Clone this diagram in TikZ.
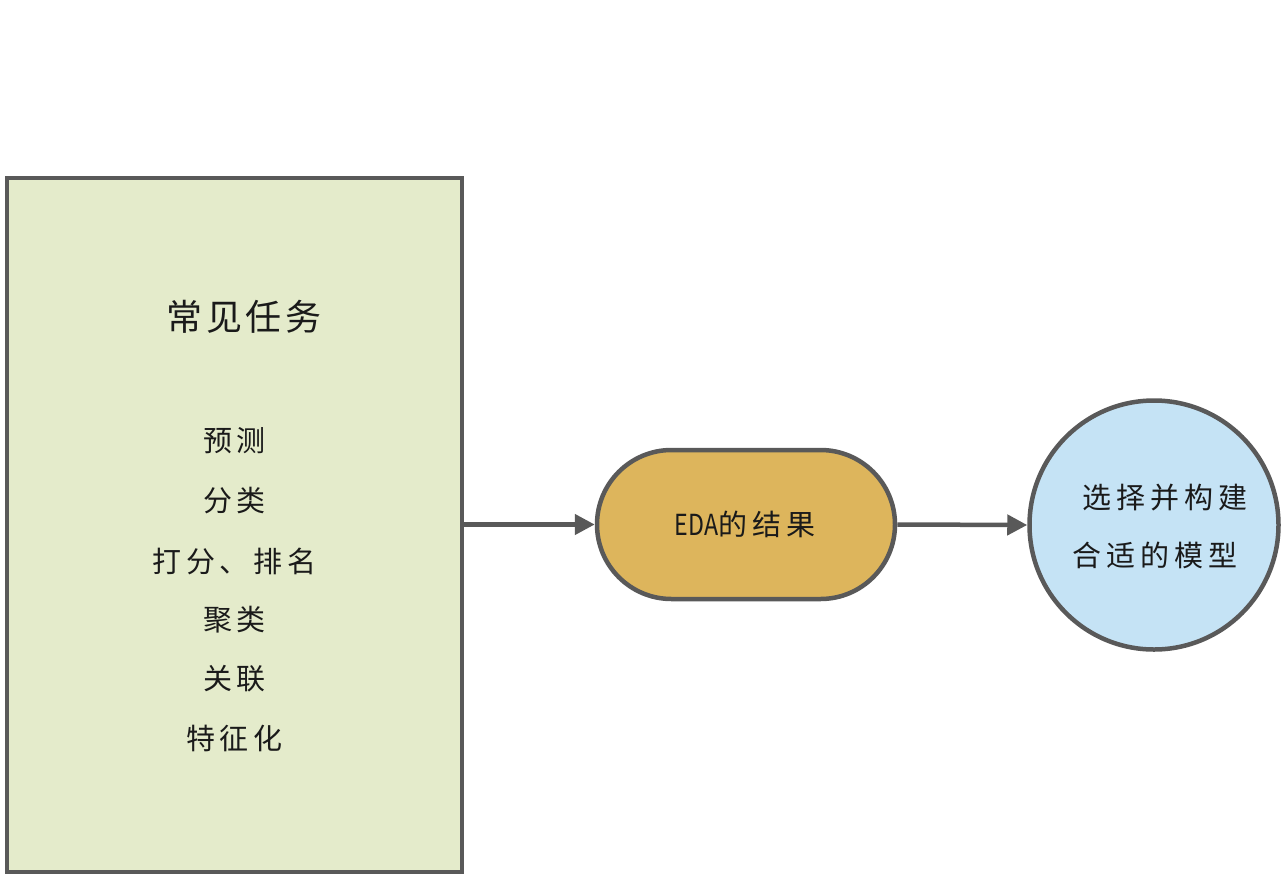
\documentclass[tikz,border=0pt]{standalone}
\usepackage{fontspec}
\usepackage{graphicx}
\newfontfamily\cjk{Noto Sans CJK SC}
\newfontfamily\cjkls[LetterSpace=17]{Noto Sans CJK SC}
\newfontfamily\cjktitle[LetterSpace=10]{Noto Sans CJK SC}
\usetikzlibrary{arrows.meta}
\definecolor{edgegray}{HTML}{595959}
\definecolor{boxgreen}{HTML}{E4EBCB}
\definecolor{boxgold}{HTML}{DDB55C}
\definecolor{boxblue}{HTML}{C5E3F5}
\definecolor{txt}{HTML}{1A1A1A}
\tikzset{
  shapeline/.style={draw=edgegray, line width=4.5pt},
  item/.style={text=txt, font=\cjkls\fontsize{29pt}{31pt}\selectfont, inner sep=0pt},
  conn/.style={draw=edgegray, line width=4.5pt, -{Triangle[length=20pt,width=20pt]}},
}
\begin{document}
\begin{tikzpicture}[x=1pt,y=-1pt]
\useasboundingbox (0,0) rectangle (1283,876);
\node[shapeline, fill=boxgreen, minimum width=455pt, minimum height=694pt, inner sep=0pt] (tasks) at (234.5,525) {};
\node[text=txt, font=\cjktitle\fontsize{36pt}{38pt}\selectfont, inner sep=0pt] (title) at (244,317) {常见任务};
\node[item] (i1) at (234.5,441) {预测};
\node[item] (i2) at (234.5,501) {分类};
\node[item] (i3) at (234.5,561) {打分、排名};
\node[item] (i4) at (234.5,620) {聚类};
\node[item] (i5) at (234.5,679) {关联};
\node[item] (i6) at (234.5,738) {特征化};
\node[shapeline, fill=boxgold, minimum width=298pt, minimum height=149pt, rounded corners=74.5pt, inner sep=0pt] (eda) at (746,524.5) {};
\node[item] (edat) at (745,524) {{\cjk\scalebox{0.8}[1]{EDA}}的结果};
\node[shapeline, fill=boxblue, circle, minimum size=249pt, inner sep=0pt] (model) at (1154,525) {};
\node[item] (m1) at (1165,498) {选择并构建};
\node[item] (m2) at (1155,555) {合适的模型};
\draw[conn] (tasks.east |- eda.west) -- (eda.west);
\draw[conn] (eda.east) -- (model.west);
\end{tikzpicture}
\end{document}
